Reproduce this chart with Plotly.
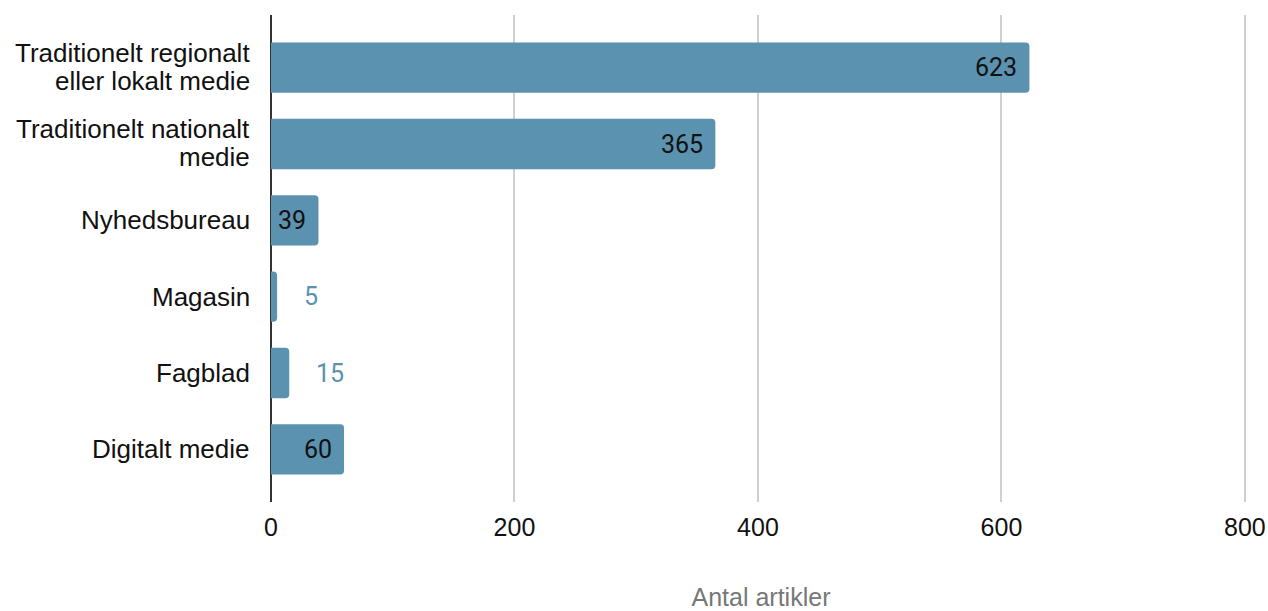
import plotly.graph_objects as go

categories = [
    "Traditionelt regionalt<br>eller lokalt medie",
    "Traditionelt nationalt<br>medie",
    "Nyhedsbureau",
    "Magasin",
    "Fagblad",
    "Digitalt medie",
]
values = [623, 365, 39, 5, 15, 60]
x_ticks = [0, 200, 400, 600, 800]
x_title = "Antal artikler"

BAR = "#5a92af"
LABEL_FONT = "Liberation Sans, Arial, sans-serif"
inside_min = 30  # values this large keep their label inside the bar
line_gap = 28     # px between lines of a wrapped category label

fig = go.Figure(
    go.Bar(
        x=values,
        y=categories,
        orientation="h",
        width=0.66,
        marker=dict(color=BAR, cornerradius=4, line=dict(width=0)),
        hoverinfo="x+y",
    )
)

annotations = []

# value labels: inside the bar end for long bars, just past it for short ones
for cat, v in zip(categories, values):
    inside = v >= inside_min
    annotations.append(dict(
        x=v, y=cat, xref="x", yref="y", text=str(v), showarrow=False,
        xanchor="right" if inside else "left",
        xshift=-10 if inside else 25,
        font=dict(family="Roboto", size=25, color="#111111" if inside else BAR),
    ))

# category labels, with tighter line spacing than the default tick labels
for cat in categories:
    lines = cat.split("<br>")
    n = len(lines)
    for i, line in enumerate(lines):
        offset = ((n - 1) / 2 - i) * line_gap + (1 if n > 1 else 0)
        annotations.append(dict(
            x=0, y=cat, xref="paper", yref="y", text=line, showarrow=False,
            xanchor="right", yanchor="middle", align="right",
            xshift=-19, yshift=offset,
            font=dict(family=LABEL_FONT, size=26, color="#111111"),
        ))

fig.update_layout(
    width=1268,
    height=611,
    margin=dict(l=271, r=17, t=15, b=109),
    paper_bgcolor="white",
    plot_bgcolor="white",
    showlegend=False,
    annotations=annotations,
    xaxis=dict(
        range=[0, 805],
        automargin=False,
        tickvals=x_ticks,
        ticktext=[str(t) for t in x_ticks],
        showgrid=True,
        gridcolor="#d0d0d0",
        gridwidth=2,
        zeroline=True,
        zerolinecolor="#333333",
        zerolinewidth=2,
        showline=False,
        ticks="",
        ticklabelstandoff=8,
        tickfont=dict(family=LABEL_FONT, size=25, color="#111111"),
        title=dict(text=x_title, standoff=51,
                   font=dict(family=LABEL_FONT, size=25, color="#777777")),
    ),
    yaxis=dict(
        range=[5.69, -0.69],
        automargin=False,
        showgrid=False,
        zeroline=False,
        showline=False,
        showticklabels=False,
        ticks="",
    ),
)

fig.write_html("out.html")
